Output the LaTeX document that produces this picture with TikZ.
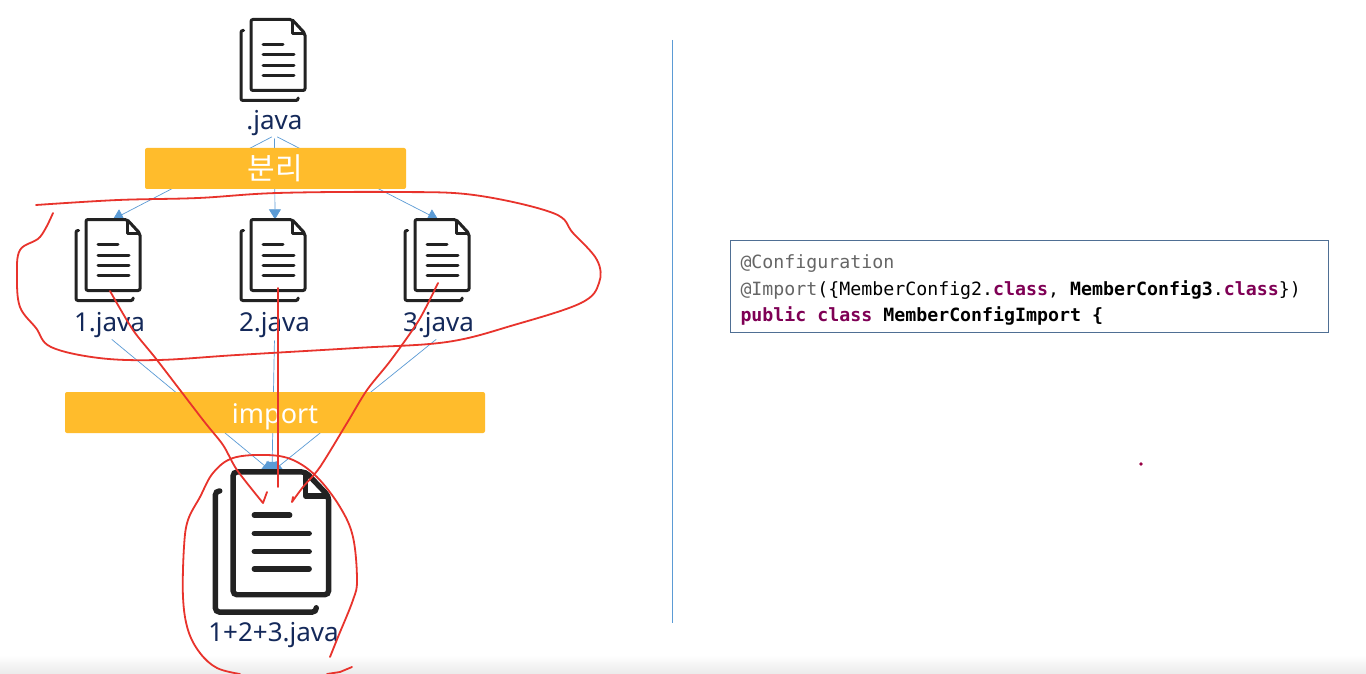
\documentclass[tikz,border=0pt]{standalone}
\usepackage{fontspec}
\usepackage{xcolor}
\usepackage{tikz}
\usetikzlibrary{arrows.meta,positioning,backgrounds}
\setmainfont{Noto Sans}
\newfontfamily\krfont{Noto Sans CJK KR}
\newfontfamily\codefont{DejaVu Sans Mono}
\definecolor{barfill}{HTML}{FFBC2C}
\definecolor{labelnavy}{HTML}{14295A}
\definecolor{linkblue}{HTML}{5B9BD5}
\definecolor{iconink}{HTML}{222222}
\definecolor{penred}{HTML}{E8332C}
\definecolor{codeedge}{HTML}{4F6F94}
\definecolor{annogray}{HTML}{666666}
\definecolor{keypurple}{HTML}{7F0055}
\newcommand{\kw}[1]{\textcolor{keypurple}{\textbf{#1}}}
\newcommand{\codegap}{\hspace*{0.602em}}

\begin{document}
\begin{tikzpicture}[x=1pt, y=-1pt,
  docbase/.style={minimum width=64pt, minimum height=81pt, inner sep=0pt},
  docbig/.style={minimum width=113pt, minimum height=140pt, inner sep=0pt},
  filename/.style={font=\fontsize{26}{28}\selectfont, text=labelnavy, inner sep=0pt, xshift=1.5pt},
  bar/.style={fill=barfill, rounded corners=2pt, text=white, minimum height=41pt, inner sep=0pt},
  link/.style={draw=linkblue, line width=0.7pt, shorten <=3pt, -{Triangle[length=10pt, width=12pt]}},
  pen/.style={draw=penred, line width=1.8pt, line cap=round, line join=round},
  codebox/.style={draw=codeedge, line width=0.9pt, minimum width=598.5pt, minimum height=92pt, text width=578pt, align=left, inner sep=0pt, font=\fontsize{18.25}{26.5}\codefont},
  pics/docfile/.style={code={
    \draw[rounded corners=#1, line cap=round] (-22,-40.5) -- (19,-40.5) -- (32,-26.5) -- (32,30.5) -- (-22,30.5) -- cycle;
    \draw[line join=round] (19,-40.5) -- (19,-26.5) -- (32,-26.5);
    \draw[rounded corners=#1, line cap=round] (-29.5,-29.5) -- (-32,-29.5) -- (-32,40.5) -- (25,40.5) -- (25,38);
    \draw[line cap=round] (-10,-15.5) -- (10,-15.5);
    \draw[line cap=round] (-10,-5) -- (21,-5);
    \draw[line cap=round] (-10,5.5) -- (21,5.5);
    \draw[line cap=round] (-10,15.5) -- (21,15.5);
  }}]
\useasboundingbox (0,0) rectangle (1366,674);
\node[docbase] (doc0) at (273,60) {};
\node[docbase] (doc1) at (108,260) {};
\node[docbase] (doc2) at (273,260) {};
\node[docbase] (doc3) at (437,260) {};
\node[docbig] (docall) at (272,542) {};
\node[filename, below=9pt of doc0] (name0) {.java};
\node[filename, below=11pt of doc1] (name1) {1.java};
\node[filename, below=11pt of doc2] (name2) {2.java};
\node[filename, below=11pt of doc3] (name3) {3.java};
\node[filename, below=10pt of docall] (nameall) {1+2+3.java};
\node[bar, minimum width=261pt, font=\fontsize{30}{32}\krfont] (split) at (275.5,168.5) {분리};
\node[bar, minimum width=420pt, text height=21pt, text depth=0pt, font=\fontsize{27}{28}\selectfont] (merge) at (275,412.5) {import};
\node[codebox] (code) at (1029.5,286) {\rule{0pt}{22pt}\textcolor{annogray}{@Configuration}\\
\textcolor{annogray}{@Import}(\{MemberConfig2.\kw{class},\codegap\textbf{MemberConfig3}.\kw{class}\})\\
\kw{public}\codegap\kw{class}\codegap\textbf{MemberConfigImport}\codegap\textbf{\{}};
\coordinate[right=5pt of doc1.north] (tip1);
\coordinate[right=2pt of doc2.north] (tip2);
\coordinate[right=1pt of doc3.north] (tip3);
\coordinate (ruletop) at (672.5,40);
\coordinate (rulebot) at (672.5,623);
\begin{scope}[on background layer]
\fill[white] (0,0) rectangle (1366,674);
\shade[top color=white, bottom color=black!8] (0,655) rectangle (1366,674);
\draw[link] (name0.south) -- (tip1);
\draw[link] (name0.south) -- (tip2);
\draw[link] (name0.south) -- (tip3);
\draw[link] (name1.south) -- (docall.north);
\draw[link] (name2.south) -- (docall.north);
\draw[link] (name3.south) -- (docall.north);
\draw[linkblue, line width=0.8pt] (ruletop) -- (rulebot);
\end{scope}
\foreach \n in {doc0,doc1,doc2,doc3}
  \pic[draw=iconink, line width=3pt] at (\n) {docfile=2pt};
\pic[draw=iconink, line width=5.4pt, xscale=1.77, yscale=1.73] at (docall) {docfile=4pt};
% hand-drawn marks on top
\draw[pen] plot[smooth, tension=0.6] coordinates {(36,205) (118,200) (198,198) (277,193) (395,192) (474,195) (553,213) (573,233) (597,260) (599,283) (581,303) (514,325) (447,342) (356,348) (237,355) (158,360) (99,358) (51,347) (36,328) (20,307) (17,277) (20,250) (40,237) (53,213)};
\draw[pen] plot[smooth, tension=0.5] coordinates {(110,291) (133,330) (157,360) (203,420) (223,445) (237,470) (263,503)} -- (267,492);
\draw[pen] (278,288) -- (278,487);
\draw[pen] plot[smooth, tension=0.5] coordinates {(438,283) (419,320) (391,360) (367,390) (347,423) (320,467) (303,487) (292,502)} -- (293,497);
\draw[pen] plot[smooth, tension=0.6] coordinates {(330,657) (338,637) (353,600) (357,580) (353,537) (340,507) (317,477) (293,460) (267,455) (233,458) (213,473) (200,497) (188,520) (184,547) (183,597) (188,630) (200,653) (217,668) (240,674)};
\draw[pen] (327,674) -- (340,672) -- (352,667);
\fill[keypurple!80!red] (1141,464) circle (1.8);
\end{tikzpicture}
\end{document}
